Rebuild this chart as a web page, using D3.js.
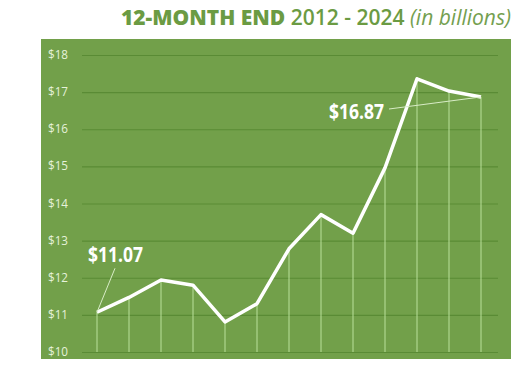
<!DOCTYPE html>
<html>
<head>
<meta charset="utf-8">
<script src="https://cdn.jsdelivr.net/npm/d3@7"></script>
<style>
  body { margin: 0; background: #fff; }
</style>
</head>
<body>
<div id="chart"></div>
<script>
const years = [2012, 2013, 2014, 2015, 2016, 2017, 2018, 2019, 2020, 2021, 2022, 2023, 2024];
const values = [11.07, 11.47, 11.94, 11.8, 10.81, 11.3, 12.78, 13.7, 13.2, 14.96, 17.36, 17.03, 16.87];
const yTicks = [10, 11, 12, 13, 14, 15, 16, 17, 18];
const callouts = [
  { year: 2012, text: "$11.07" },
  { year: 2024, text: "$16.87" }
];

const width = 519, height = 367;
const narrow = "'Open Sans', sans-serif";

const svg = d3
  .select("#chart")
  .append("svg")
  .attr("width", width)
  .attr("height", height);

// Title
const title = svg
  .append("text")
  .attr("x", 511)
  .attr("y", 25)
  .attr("text-anchor", "end")
  .attr("fill", "#6b9b43")
  .attr("textLength", 390)
  .attr("lengthAdjust", "spacingAndGlyphs")
  .style("font-family", "'Open Sans', sans-serif")
  .style("font-size", "21px");
title.append("tspan").attr("font-weight", 800).text("12-MONTH END ");
title.append("tspan").attr("font-weight", 600).text("2012 - 2024 ");
title.append("tspan").attr("font-weight", 400).attr("font-style", "italic").attr("fill", "#74a050").text("(in billions)");

// Green panel
svg
  .append("rect")
  .attr("x", 41)
  .attr("y", 39)
  .attr("width", 470)
  .attr("height", 320)
  .attr("fill", "#72a04a");

// Scales
const x = d3.scalePoint().domain(years).range([97, 481]);
const y = d3.scaleLinear().domain([10, 18]).range([352, 55]);

// Grid lines
svg
  .append("g")
  .attr("transform", "translate(82,0)")
  .call(d3.axisLeft(y).tickValues(yTicks).tickSize(-416).tickFormat(""))
  .call((g) => g.select(".domain").remove())
  .selectAll("line")
  .attr("stroke", "#5a8b35")
  .attr("stroke-width", 1.2);

// Tick labels
svg
  .append("g")
  .selectAll("text")
  .data(yTicks)
  .enter()
  .append("text")
  .attr("x", 48)
  .attr("y", (d) => y(d) + 4)
  .attr("fill", "#e6f2da")
  .attr("textLength", 20)
  .attr("lengthAdjust", "spacingAndGlyphs")
  .style("font-family", narrow)
  .style("font-size", "12.5px")
  .text((d) => "$" + d);

// Drop lines
svg
  .append("g")
  .selectAll("line")
  .data(values)
  .enter()
  .append("line")
  .attr("x1", (d, i) => x(years[i]))
  .attr("x2", (d, i) => x(years[i]))
  .attr("y1", (d) => y(d))
  .attr("y2", y(10))
  .attr("stroke", "#b9e09a")
  .attr("stroke-width", 1);

// Line
const line = d3
  .line()
  .x((d, i) => x(years[i]))
  .y((d) => y(d));

svg
  .append("path")
  .datum(values)
  .attr("d", line)
  .attr("fill", "none")
  .attr("stroke", "#fff")
  .attr("stroke-width", 3.5)
  .attr("stroke-linejoin", "round");

// Callouts
const c0 = callouts[0], c1 = callouts[1];
const v0 = values[years.indexOf(c0.year)];
const v1 = values[years.indexOf(c1.year)];

svg
  .append("line")
  .attr("x1", x(c0.year))
  .attr("y1", y(v0))
  .attr("x2", x(c0.year) + 18)
  .attr("y2", y(v0) - 44)
  .attr("stroke", "#d8ecc6")
  .attr("stroke-width", 1);

svg
  .append("text")
  .attr("x", 88)
  .attr("y", 262)
  .attr("fill", "#fff")
  .attr("font-weight", "bold")
  .attr("textLength", 55)
  .attr("lengthAdjust", "spacingAndGlyphs")
  .style("font-family", narrow)
  .style("font-size", "21px")
  .text(c0.text);

svg
  .append("line")
  .attr("x1", x(c1.year))
  .attr("y1", y(v1))
  .attr("x2", 389)
  .attr("y2", 109)
  .attr("stroke", "#d8ecc6")
  .attr("stroke-width", 1);

svg
  .append("text")
  .attr("x", 329)
  .attr("y", 119)
  .attr("fill", "#fff")
  .attr("font-weight", "bold")
  .attr("textLength", 55)
  .attr("lengthAdjust", "spacingAndGlyphs")
  .style("font-family", narrow)
  .style("font-size", "21px")
  .text(c1.text);
</script>
</body>
</html>
